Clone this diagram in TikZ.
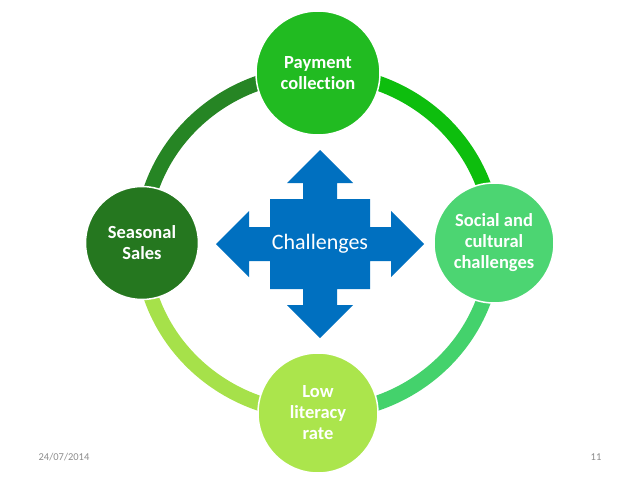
\documentclass[tikz,border=0pt]{standalone}
\usepackage{fontspec}
\setmainfont{Carlito}[Ligatures=NoCommon]
\usepackage{tikz}
\usetikzlibrary{backgrounds}

\definecolor{sesgreen}{HTML}{25771F}
\definecolor{sesring}{HTML}{268524}
\definecolor{paygreen}{HTML}{21BB21}
\definecolor{payring}{HTML}{0DBE0D}
\definecolor{socgreen}{HTML}{4CD572}
\definecolor{socring}{HTML}{44D26C}
\definecolor{lowgreen}{HTML}{ABE54C}
\definecolor{lowring}{HTML}{A6E14A}
\definecolor{arrowblue}{HTML}{0070C0}
\definecolor{footgray}{HTML}{8C8C8C}

\tikzset{
  bubble/.style={circle, draw=white, line width=1.5pt, inner sep=0pt, text=white, align=center, font=\fontsize{18.5}{21}\selectfont\bfseries},
  ring/.style={line width=15pt},
  foot/.style={text=footgray, font=\fontsize{10.5}{12}\selectfont}
}

\begin{document}
\begin{tikzpicture}[x=1pt,y=-1pt]
\useasboundingbox (0,0) rectangle (638,479);
\node[bubble, fill=paygreen, minimum size=124] (pay) at (318,73) {Payment\\collection};
\node[bubble, fill=socgreen, minimum size=120] (soc) at (494,243) {Social and\\cultural\\challenges};
\node[bubble, fill=lowgreen, minimum size=120] (low) at (318,413) {Low\\literacy\\rate};
\node[bubble, fill=sesgreen, minimum size=113] (ses) at (142,243) {Seasonal\\Sales};
\begin{pgfonlayer}{background}
\draw[ring, payring] (pay.center) arc[start angle=-90, end angle=0, x radius=176, y radius=170];
\draw[ring, socring] (soc.center) arc[start angle=0, end angle=90, x radius=176, y radius=170];
\draw[ring, lowring] (low.center) arc[start angle=90, end angle=180, x radius=176, y radius=170];
\draw[ring, sesring] (ses.center) arc[start angle=180, end angle=270, x radius=176, y radius=170];
\end{pgfonlayer}
\fill[arrowblue, shift={(320,244)}] (0,-94) -- (33,-61) -- (17,-61) -- (17,-45) -- (50,-45) -- (50,-17) -- (71,-17) -- (71,-33) -- (104,0) -- (71,33) -- (71,17) -- (50,17) -- (50,45) -- (17,45) -- (17,61) -- (33,61) -- (0,94) -- (-33,61) -- (-17,61) -- (-17,45) -- (-50,45) -- (-50,17) -- (-71,17) -- (-71,33) -- (-104,0) -- (-71,-33) -- (-71,-17) -- (-50,-17) -- (-50,-45) -- (-17,-45) -- (-17,-61) -- (-33,-61) -- cycle;
\node[text=white, font=\fontsize{22}{26}\selectfont] (chal) at (320,244) {Challenges};
\node[foot] (date) at (64,457) {24/07/2014};
\node[foot] (page) at (596,457) {11};
\end{tikzpicture}
\end{document}
